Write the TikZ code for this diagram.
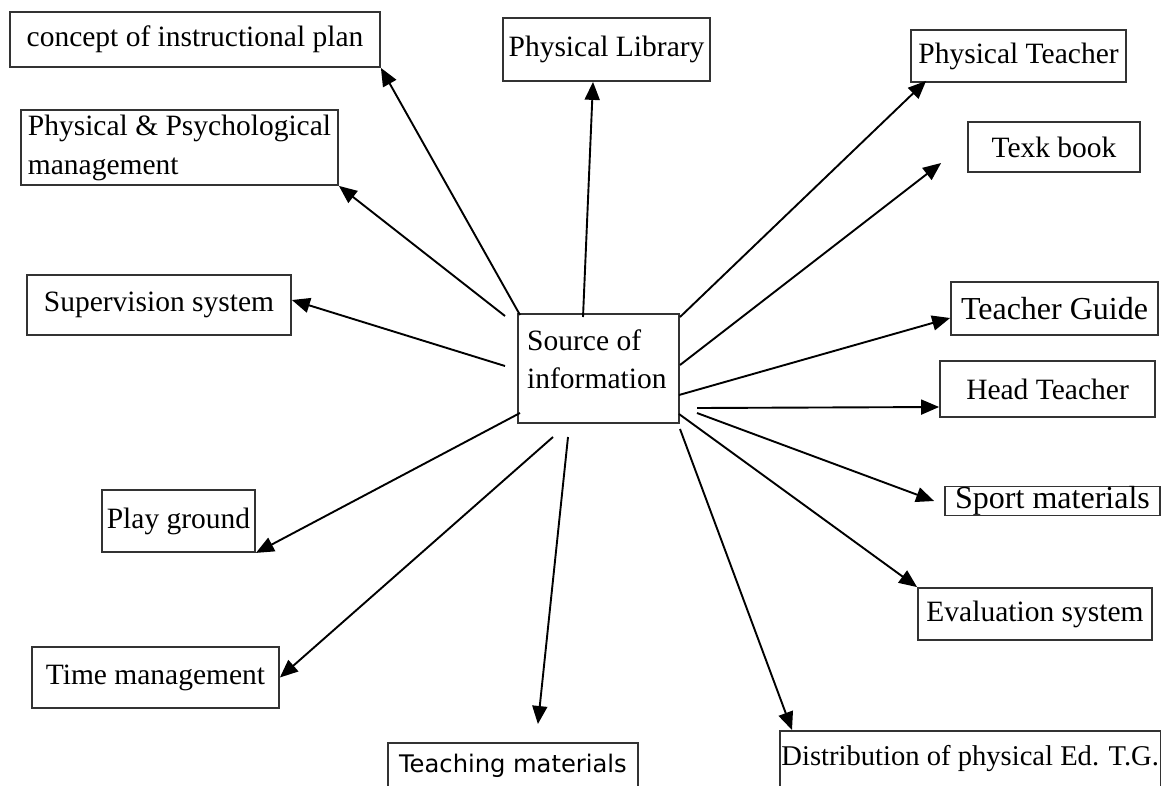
\documentclass[tikz,border=0pt]{standalone}
\usepackage{fontspec}
\setmainfont{Liberation Serif}
\newfontfamily\tahomafont{DejaVu Sans}
\usetikzlibrary{arrows.meta}
\definecolor{boxgray}{HTML}{333333}
\tikzset{
  box/.style={draw=boxgray, line width=1.8pt, inner sep=0pt, fill=white,
    font=\fontsize{29.5}{39}\selectfont},
  bigtext/.style={font=\fontsize{32}{39}\selectfont},
  arr/.style={-{Triangle[length=18pt,width=15pt]}, line width=1.9pt, black},
}
\begin{document}
\begin{tikzpicture}[x=1pt,y=-1pt]
\useasboundingbox (0,0) rectangle (1166,785);
% boxes
\node[box, minimum width=370pt, minimum height=55pt] (concept) at (195,39.5) {concept of instructional plan};
\node[box, minimum width=317pt, minimum height=75pt, align=left] (psych) at (179.5,147.5) {Physical \& Psychological\\management};
\node[box, minimum width=207pt, minimum height=63pt] (lib) at (606.5,49.5) {Physical Library};
\node[box, minimum width=215pt, minimum height=52pt] (pteacher) at (1018.5,56) {Physical Teacher};
\node[box, minimum width=172pt, minimum height=50pt] (texk) at (1054,147) {Texk book};
\node[box, minimum width=161pt, minimum height=109pt] (src) at (598.5,368.5) {};
\node[anchor=north west, inner sep=0pt, align=left, font=\fontsize{29.5}{38}\selectfont] (srctext) at (527,330) {Source of\\information};
\node[box, bigtext, minimum width=207pt, minimum height=53pt] (tguide) at (1054.5,308.5) {Teacher Guide};
\node[box, minimum width=215pt, minimum height=56pt] (head) at (1047.5,389) {Head Teacher};
\node[box, bigtext, minimum width=215pt, minimum height=28pt] (sport) at (1052.5,501) {Sport materials};
\node[box, minimum width=234pt, minimum height=52pt] (eval) at (1035,614) {Evaluation system};
\node[box, anchor=north west, inner xsep=1.5pt, text height=35pt, text depth=35pt, font=\fontsize{28.6}{34}\selectfont] (distr) at (779,730) {Distribution of physical Ed. T.G.};
\node[box, anchor=north west, minimum width=250pt, text height=30pt, text depth=28pt, font=\tahomafont\fontsize{24.2}{29}\selectfont] (teach) at (387,742) {Teaching materials};
\node[box, minimum width=247pt, minimum height=61pt] (time) at (155.5,677.5) {Time management};
\node[box, minimum width=153pt, minimum height=62pt] (play) at (178.5,521) {Play ground};
\node[box, minimum width=264pt, minimum height=60pt] (superv) at (159,305) {Supervision system};
% start points of connectors
\coordinate (s1) at (520,315);
\coordinate (s2) at (505,316);
\coordinate (s3) at (583,317);
\coordinate (s4) at (680,317);
\coordinate (s5) at (680,365);
\coordinate (s6) at (679,395);
\coordinate (s7) at (697,408);
\coordinate (s8) at (697,413);
\coordinate (s9) at (679,414);
\coordinate (s10) at (680,429);
\coordinate (s11) at (568,437);
\coordinate (s12) at (553,437);
\coordinate (s13) at (520,413);
\coordinate (s14) at (505,366);
% connectors
\draw[arr] (s1) -- (concept.south east);
\draw[arr] (s2) -- (psych.south east);
\draw[arr] (s3) -- ([xshift=-13.5pt]lib.south);
\draw[arr] (s4) -- ([xshift=16pt,yshift=2pt]pteacher.south west);
\draw[arr] (s5) -- ([xshift=-26pt,yshift=-16pt]texk.west);
\draw[arr] (s6) -- ([yshift=-9.5pt]tguide.west);
\draw[arr] (s7) -- ([yshift=-18pt]head.west);
\draw[arr] (s8) -- ([xshift=-10pt]sport.west);
\draw[arr] (s9) -- (eval.north west);
\draw[arr] (s10) -- ([xshift=13pt]distr.north west);
\draw[arr] (s11) -- ([xshift=25pt,yshift=18pt]teach.north);
\draw[arr] (s12) -- (time.east);
\draw[arr] (s13) -- (play.south east);
\draw[arr] (s14) -- ([yshift=5pt]superv.east);
\end{tikzpicture}
\end{document}
